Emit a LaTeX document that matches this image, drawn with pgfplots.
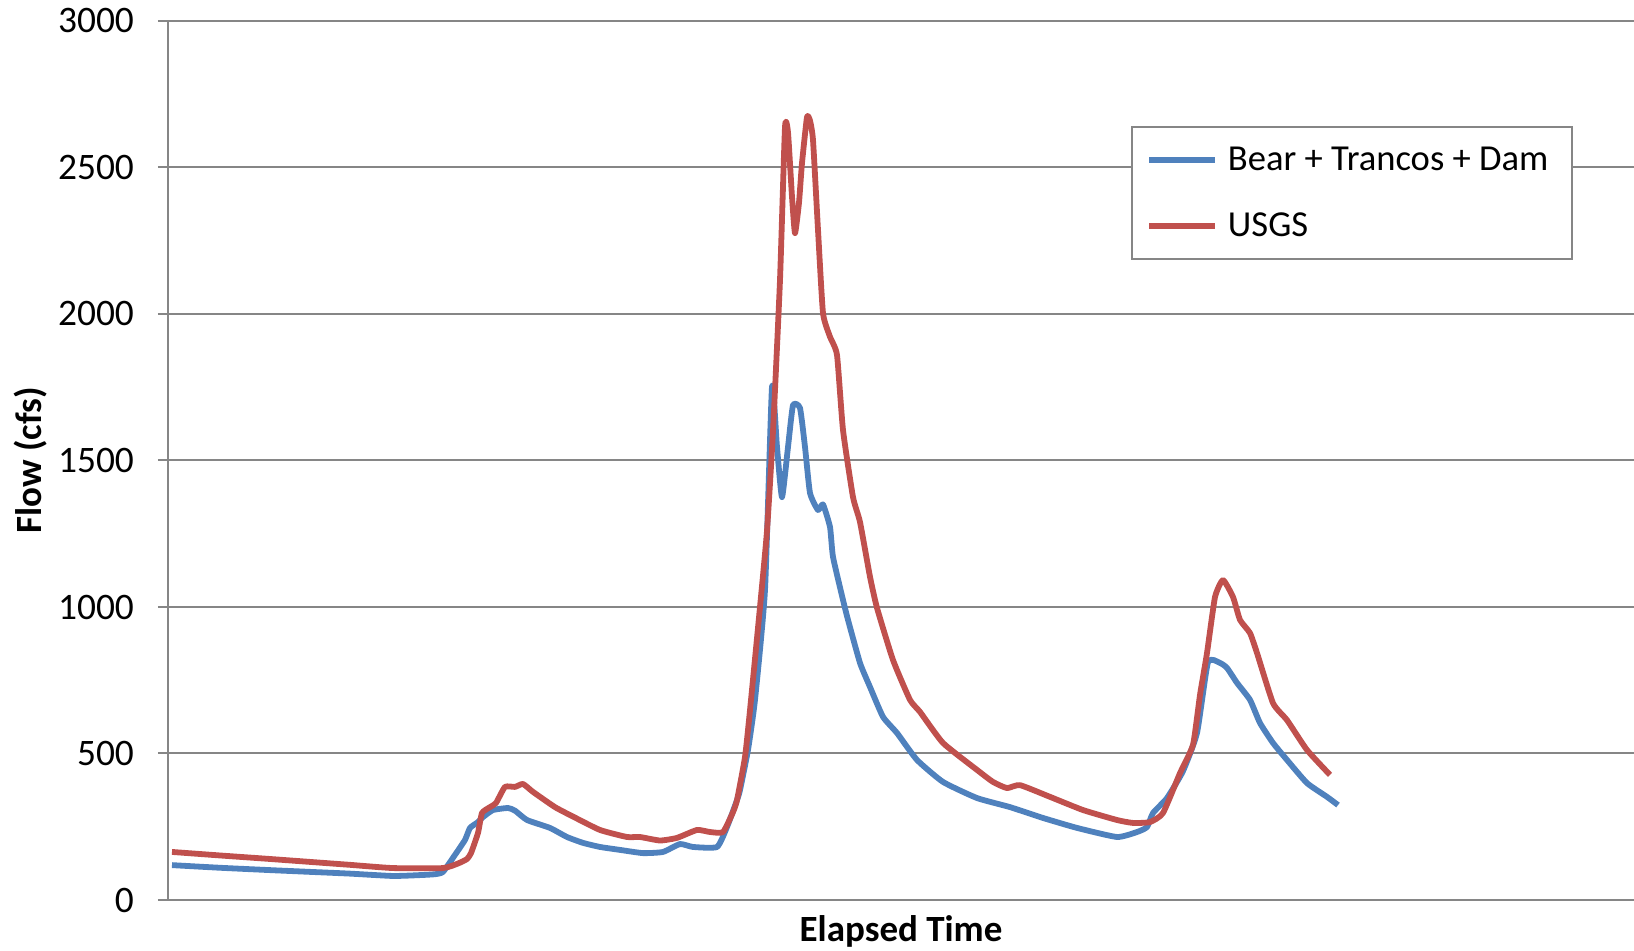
\documentclass[border=0pt]{standalone}
\usepackage{pgfplots}
\pgfplotsset{compat=1.18}
\usepackage{fontspec}
\setmainfont{Carlito}
\definecolor{xblue}{HTML}{4F81BD}
\definecolor{xred}{HTML}{C0504D}
\definecolor{xgray}{HTML}{868686}
\begin{document}
\begin{tikzpicture}
\begin{axis}[
  scale only axis,
  width=733pt, height=439.5pt,
  xmin=168, xmax=1634, ymin=0, ymax=3000,
  axis x line*=bottom, axis y line*=left,
  x axis line style={draw=none},
  y axis line style={xgray, line width=1pt},
  xtick=\empty,
  ytick={0,500,1000,1500,2000,2500,3000},
  ymajorgrids,
  major grid style={xgray, line width=1pt},
  tick align=outside,
  major tick length=5pt,
  major tick style={xgray, line width=1pt},
  /pgf/number format/assume math mode=true,
  /pgf/number format/1000 sep={},
  tick label style={font=\fontsize{18.7}{22}\selectfont},
  yticklabel style={xshift=-8.5pt},
  ylabel={Flow (cfs)},
  xlabel={Elapsed Time},
  label style={font=\fontsize{18.5}{22}\selectfont\bfseries, inner sep=0pt},
  ylabel style={at={(axis description cs:-0.0935,0.5)}, anchor=center},
  xlabel style={at={(axis description cs:0.5,-0.0355)}, anchor=center},
  legend style={at={(axis description cs:0.657,0.8805)}, anchor=north west,
    draw=xgray, line width=1pt, font=\fontsize{18.3}{22}\selectfont,
    inner xsep=7pt, inner ysep=8pt, row sep=15.5pt, fill=white,
    nodes={inner xsep=5pt}},
  legend cell align=left,
  legend image code/.code={\draw[#1] (0pt,0pt) -- (33pt,0pt);},
  every axis plot/.append style={line width=2.9pt, line join=round, smooth, tension=0.3},
]
\addplot[xblue] coordinates {
(172,119) (220,110) (270,102) (310,96) (350,90) (393,82) (420,85) (435,88) (443,96)
(455,154) (465,205) (470,246) (478,266) (483,283) (493,307) (508,314) (515,305)
(527,273) (550,246) (567,215) (583,195) (600,181) (620,171) (643,160) (663,164) (680,191)
(693,181) (717,181) (727,249) (737,341) (740,375) (748,512) (755,683) (765,1058)
(772,1751) (777,1546) (782,1375) (788,1546) (793,1689) (800,1679) (805,1546)
(810,1389) (818,1331) (823,1350) (830,1273) (833,1171) (843,1024) (848,956)
(860,809) (870,727) (883,625) (897,570) (917,478) (943,403) (977,348) (1010,317)
(1043,280) (1077,246) (1117,215) (1137,232) (1147,249) (1153,297) (1167,348)
(1183,440) (1197,570) (1208,812) (1220,809) (1227,792) (1237,741) (1250,683)
(1260,604) (1273,536) (1287,478) (1307,399) (1327,352) (1338,324)
};
\addlegendentry{Bear + Trancos + Dam}
\addplot[xred] coordinates {
(172,164) (220,152) (270,140) (310,130) (350,120) (393,109) (443,109) (459,126)
(467,140) (471,160) (478,229) (482,297) (490,317) (496,331) (505,386) (515,386)
(523,396) (533,369) (555,317) (574,283) (600,239) (627,215) (640,215) (660,203)
(677,212) (697,239) (710,232) (723,232) (733,300) (737,341) (745,488) (750,648)
(760,1000) (767,1260) (773,1600) (780,2116) (785,2638) (788,2620) (792,2400)
(795,2276) (799,2380) (802,2515) (807,2672) (810,2660) (813,2594) (818,2287)
(823,2003) (830,1922) (837,1860) (843,1604) (853,1375) (860,1290) (870,1103)
(877,997) (893,819) (910,683) (920,642) (943,536) (977,444) (993,403) (1007,382)
(1020,392) (1050,352) (1083,307) (1117,273) (1133,263) (1150,266) (1163,297)
(1180,433) (1193,530) (1200,700) (1207,843) (1215,1034) (1223,1092) (1233,1034)
(1240,956) (1250,911) (1257,843) (1273,672) (1287,614) (1307,512) (1330,427)
};
\addlegendentry{USGS}
\coordinate (bl) at (axis description cs:-0.1146,-0.058);
\coordinate (tr) at (axis description cs:1,1.0239);
\end{axis}
\pgfresetboundingbox
\useasboundingbox (bl) rectangle (tr);
\end{tikzpicture}
\end{document}
